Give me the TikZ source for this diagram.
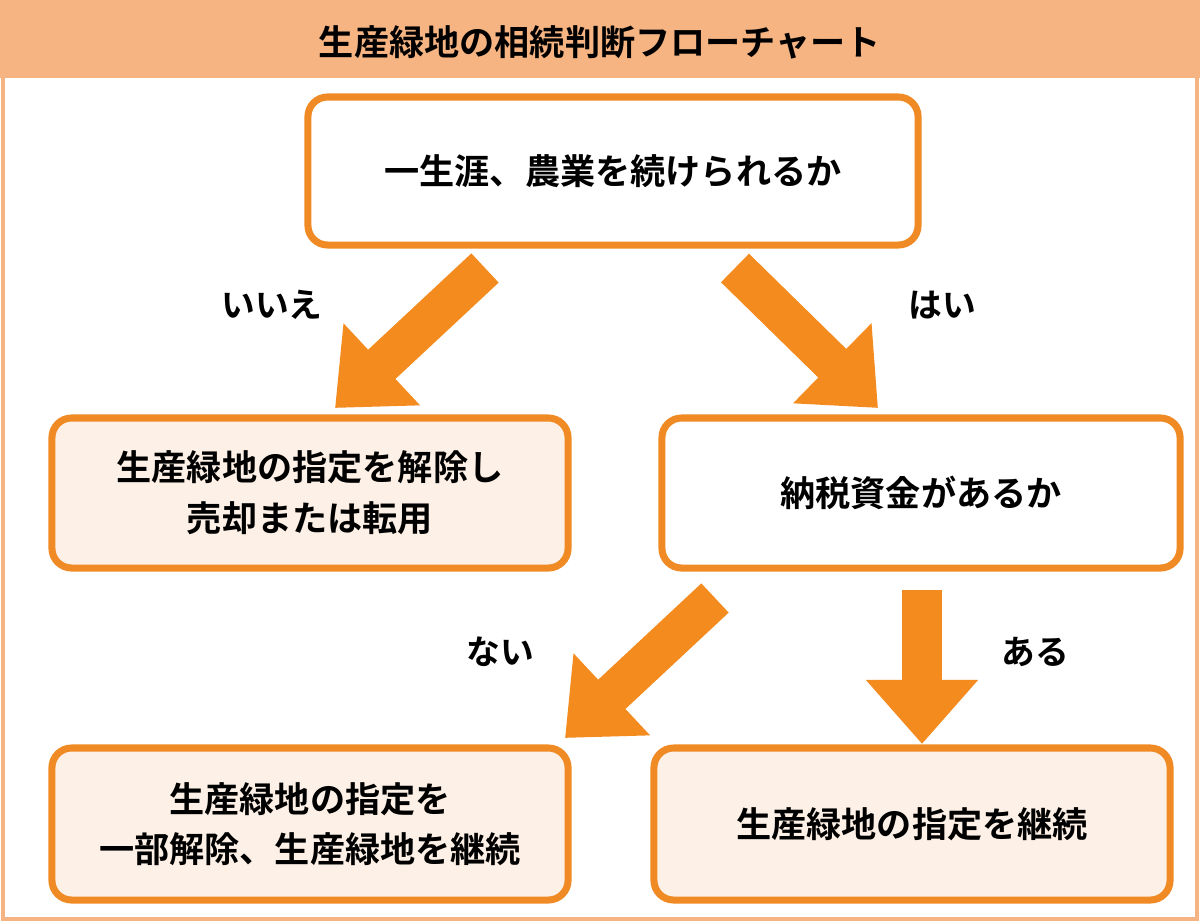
\documentclass[tikz,border=0pt]{standalone}
\usepackage{fontspec}
\newfontfamily\cjk{Noto Sans CJK JP}[BoldFont={Noto Sans CJK JP Bold}]
\usetikzlibrary{arrows.meta}
\definecolor{frameor}{HTML}{F5B482}
\definecolor{boxor}{HTML}{F08A24}
\definecolor{arrowor}{HTML}{F38B1F}
\definecolor{paleor}{HTML}{FDF0E6}
\tikzset{
  flowbox/.style={draw=boxor,line width=5pt,rounded corners=14pt,align=center,
    font=\cjk\bfseries\fontsize{25}{36}\selectfont},
  fat/.style={arrowor,line width=1cm,-{Triangle[length=1.6cm,width=2.7cm]}},
  lbl/.style={font=\cjk\bfseries\fontsize{24}{28}\selectfont}
}
\begin{document}
\begin{tikzpicture}[x=0.025cm,y=-0.025cm]
  \useasboundingbox (0,0) rectangle (1200,922);
  \fill[frameor] (0,0) rectangle (1200,78);
  \draw[frameor,line width=3pt] (3,3) rectangle (1197,919);
  \node[font=\cjk\bfseries\fontsize{25}{30}\selectfont] (title) at (600,42) {生産緑地の相続判断フローチャート};

  \node[flowbox,fill=white,minimum width=15.25cm,minimum height=3.7cm] (farm) at (613,171) {一生涯、農業を続けられるか};
  \node[flowbox,fill=paleor,minimum width=12.9cm,minimum height=3.75cm] (sell) at (310,493) {生産緑地の指定を解除し\\売却または転用};
  \node[flowbox,fill=white,minimum width=12.95cm,minimum height=3.75cm] (fund) at (921,493) {納税資金があるか};
  \node[flowbox,fill=paleor,minimum width=12.9cm,minimum height=3.8cm] (part) at (310,824) {生産緑地の指定を\\一部解除、生産緑地を継続};
  \node[flowbox,fill=paleor,minimum width=12.9cm,minimum height=3.8cm] (keep) at (912,824) {生産緑地の指定を継続};

  \coordinate (a1) at (485,268);
  \coordinate (a2) at (335,408);
  \coordinate (b1) at (735,268);
  \coordinate (b2) at (878,408);
  \coordinate (c1) at (715,598);
  \coordinate (c2) at (565,738);
  \coordinate (d1) at (922,590);
  \coordinate (d2) at (922,744);
  \draw[fat] (a1) -- (a2);
  \draw[fat] (b1) -- (b2);
  \draw[fat] (c1) -- (c2);
  \draw[fat] (d1) -- (d2);

  \node[lbl] (no) at (272,305) {いいえ};
  \node[lbl] (yes) at (942,305) {はい};
  \node[lbl] (none) at (500,652) {ない};
  \node[lbl] (have) at (1035,652) {ある};
\end{tikzpicture}
\end{document}
